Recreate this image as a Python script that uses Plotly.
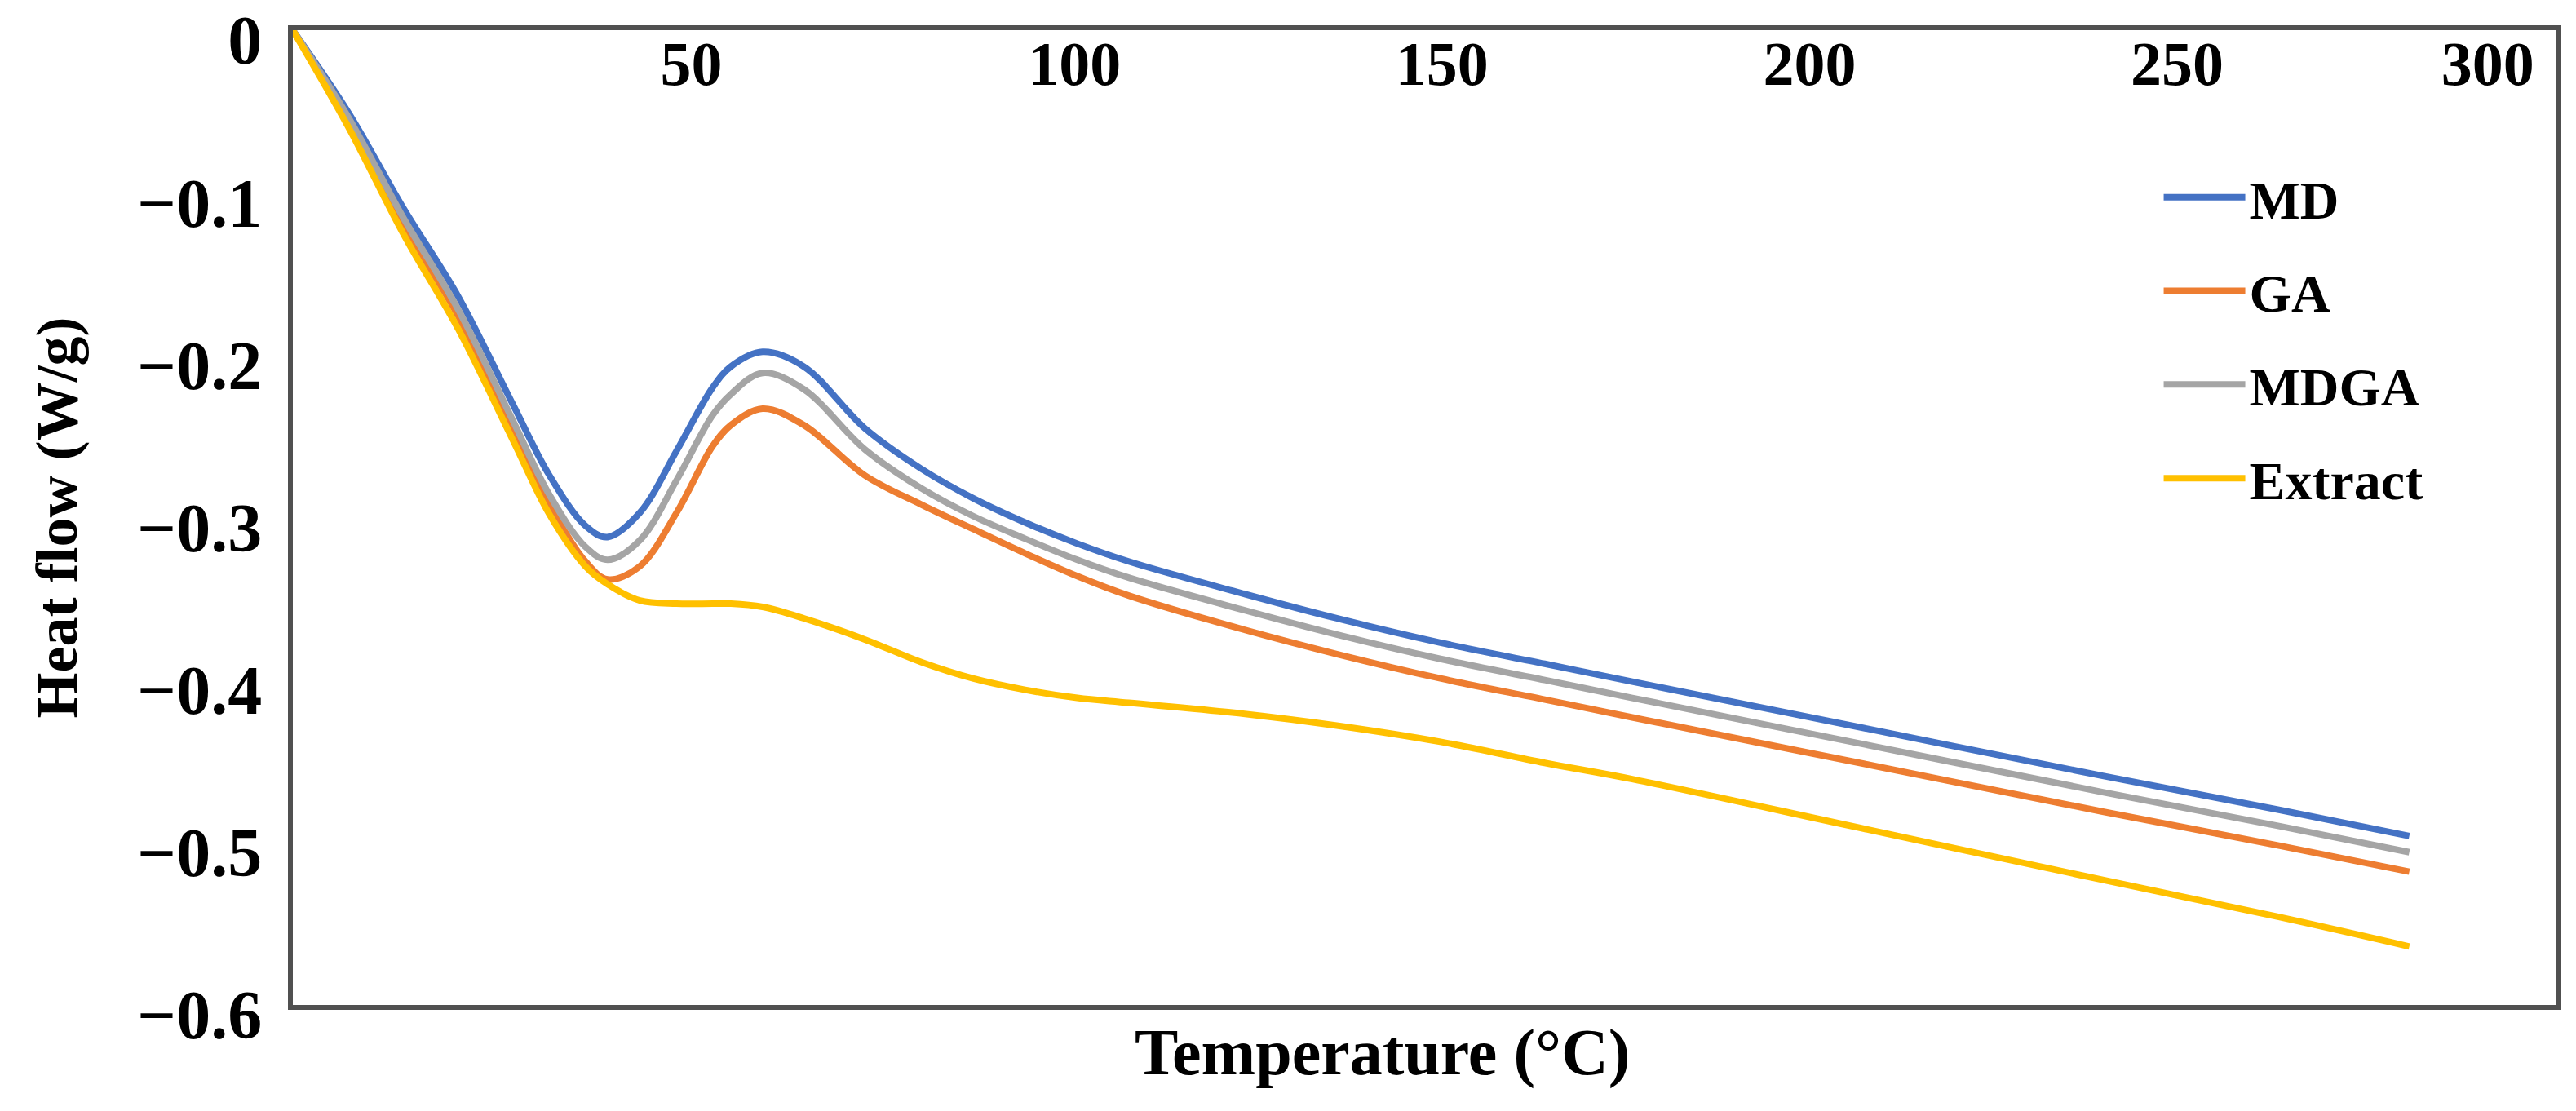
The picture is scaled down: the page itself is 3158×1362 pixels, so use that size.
import plotly.graph_objects as go

# ---------------- data ----------------
temperature = [0, 7.6, 15.1, 22.5, 29.9, 34.9, 39.8, 42.8, 47.2, 52.2, 57.1, 59.6, 63.9,
               69.5, 77.8, 85.5, 92.5, 99.6, 106.7, 113.7, 127.8, 142.0, 156.1, 170.3,
               182.2, 214.2, 246.2, 270.3, 287.9]
md = [0, -0.051, -0.110, -0.164, -0.230, -0.274, -0.305, -0.312, -0.297, -0.259, -0.220,
      -0.207, -0.198, -0.207, -0.245, -0.270, -0.288, -0.303, -0.316, -0.327, -0.345,
      -0.362, -0.377, -0.390, -0.401, -0.430, -0.459, -0.480, -0.496]
ga = [0, -0.056, -0.120, -0.176, -0.245, -0.292, -0.327, -0.338, -0.330, -0.297, -0.256,
      -0.243, -0.233, -0.243, -0.274, -0.292, -0.307, -0.322, -0.336, -0.348, -0.367,
      -0.384, -0.399, -0.412, -0.423, -0.452, -0.481, -0.502, -0.518]
mdga = [0, -0.054, -0.116, -0.172, -0.240, -0.286, -0.318, -0.326, -0.314, -0.277, -0.237,
        -0.224, -0.211, -0.221, -0.258, -0.282, -0.299, -0.313, -0.326, -0.337, -0.355,
        -0.372, -0.387, -0.400, -0.411, -0.440, -0.469, -0.490, -0.506]
extract = [0, -0.060, -0.126, -0.184, -0.252, -0.298, -0.330, -0.341, -0.351, -0.353, -0.353,
           -0.353, -0.355, -0.362, -0.375, -0.389, -0.399, -0.406, -0.411, -0.414, -0.420,
           -0.428, -0.438, -0.451, -0.461, -0.492, -0.523, -0.546, -0.564]

series_names = ["MD", "GA", "MDGA", "Extract"]
series_colors = ["#4472C4", "#ED7D31", "#A5A5A5", "#FFC000"]

x_tick_vals = [50, 100, 150, 200, 250]
x_last_tick = [300]
y_tick_vals = [0, -0.1, -0.2, -0.3, -0.4, -0.5, -0.6]
y_tick_text = ["0", "\u22120.1", "\u22120.2", "\u22120.3", "\u22120.4", "\u22120.5", "\u22120.6"]

x_title = "Temperature (°C)"
y_title = "Heat flow (W/g)"

x_range = [0, 307.8]
y_range = [-0.6, 0]

# ---------------- figure ----------------
SERIF = "Liberation Serif"
fig = go.Figure()
for name, vals, col in zip(series_names, [md, ga, mdga, extract], series_colors):
    fig.add_trace(go.Scatter(x=temperature, y=vals, mode="lines", name=name,
                             legendgroup=name,
                             line=dict(color=col, width=8, shape="spline", smoothing=1.0)))

# invisible helper traces so the top (label) axes are drawn
for ax in ["x2", "x3"]:
    fig.add_trace(go.Scatter(x=[temperature[0]], y=[md[0]], xaxis=ax, yaxis="y",
                             mode="lines", opacity=0, showlegend=False, hoverinfo="skip"))

frame_col = "#505050"
common_top = dict(overlaying="x", side="top", anchor="y", range=x_range, automargin=False,
                  showline=False, showgrid=False, zeroline=False, ticks="",
                  ticklabelposition="inside right", ticklabelstandoff=8,
                  ticklabeloverflow="allow",
                  tickfont=dict(family=SERIF, size=76, color="black", weight="bold"))

fig.update_layout(
    width=3158, height=1362,
    margin=dict(l=359, r=25, t=37, b=130, autoexpand=False),
    paper_bgcolor="white", plot_bgcolor="white",
    showlegend=True,
    legend=dict(x=0.825, y=0.870, xanchor="left", yanchor="top",
                font=dict(family=SERIF, size=66, color="black", weight="bold"),
                bgcolor="rgba(0,0,0,0)", itemwidth=100, traceorder="grouped",
                tracegroupgap=26),
    xaxis=dict(range=x_range, showline=True, linecolor=frame_col, linewidth=6, mirror=True,
               automargin=False,
               showgrid=False, zeroline=False, ticks="", showticklabels=False),
    xaxis2=dict(tickvals=x_tick_vals, **common_top),
    xaxis3=dict(tickvals=x_last_tick, ticklabelshift=-70, **common_top),
    yaxis=dict(range=y_range, showline=True, linecolor=frame_col, linewidth=6, mirror=True,
               automargin=False,
               showgrid=False, zeroline=False, ticks="",
               tickvals=y_tick_vals, ticktext=y_tick_text,
               ticklabelstandoff=15, ticklabelshift=12, ticklabeloverflow="allow",
               tickfont=dict(family=SERIF, size=84, color="black", weight="bold"),
               title=dict(text=y_title, standoff=52,
                          font=dict(family=SERIF, size=72, color="black", weight="bold"))),
    annotations=[dict(text=x_title, xref="paper", yref="paper", x=0.4816, y=-0.049,
                      xanchor="center", yanchor="middle", showarrow=False,
                      font=dict(family=SERIF, size=80, color="black", weight="bold"))],
)

fig.write_html("out.html")
